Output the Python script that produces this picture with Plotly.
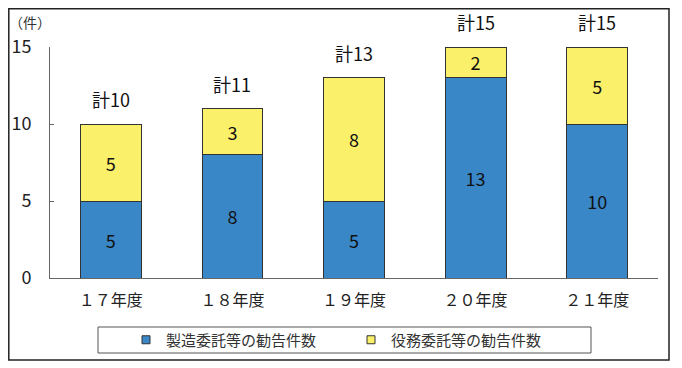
import plotly.graph_objects as go

categories = ["１７年度", "１８年度", "１９年度", "２０年度", "２１年度"]
manufacturing = [5, 8, 5, 13, 10]
services = [5, 3, 8, 2, 5]
series_names = ["製造委託等の勧告件数", "役務委託等の勧告件数"]
totals = [m + s for m, s in zip(manufacturing, services)]
total_labels = ["計%d" % t for t in totals]
y_ticks = [0, 5, 10, 15]
colors = ["#3A87C8", "#FBF06A"]

JP = "Noto Sans CJK JP, Noto Sans, sans-serif"
NUM = "Liberation Sans Narrow, Noto Sans CJK JP, sans-serif"

# page is rendered with an 8px body margin
OFF = 8
L, T, W, H = 42, 39, 608, 231
FW, FH = 682, 368


def px(xp):
    return (xp - OFF - L) / W


def py(yp):
    return (T + H - (yp - OFF)) / H


fig = go.Figure()
for vals, name, col in zip([manufacturing, services], series_names, colors):
    fig.add_trace(go.Bar(
        x=categories, y=vals, name=name, showlegend=False,
        marker=dict(color=col, line=dict(color="#333333", width=1)),
        text=vals, textposition="inside", insidetextanchor="middle", textangle=0,
        textfont=dict(family=NUM, size=18, color="#111111"), width=0.5,
    ))
for name, col in zip(series_names, colors):
    fig.add_trace(go.Scatter(
        x=[None], y=[None], mode="markers", name=name,
        marker=dict(symbol="square", size=8, color=col, line=dict(color="#333333", width=1)),
    ))

for c, t, lab in zip(categories, totals, total_labels):
    fig.add_annotation(x=c, y=t, text=lab, showarrow=False, yanchor="bottom",
                       yshift=10, font=dict(family=NUM, size=18, color="#111111"))

fig.add_annotation(xref="paper", yref="paper", x=px(30), y=py(22),
                   text="（件）", showarrow=False, xanchor="center", yanchor="middle",
                   font=dict(family=JP, size=14, color="#333333"))

# outer frame
fig.add_shape(type="rect", xref="paper", yref="paper",
              x0=px(8.8), x1=px(669), y0=py(360), y1=py(8.8),
              line=dict(color="#222222", width=1.5))
# legend frame
fig.add_shape(type="rect", xref="paper", yref="paper",
              x0=px(98), x1=px(591), y0=py(353), y1=py(327),
              line=dict(color="#555555", width=1))

fig.update_layout(
    barmode="stack",
    width=FW, height=FH,
    margin=dict(l=L, r=FW - L - W, t=T, b=FH - T - H, autoexpand=False),
    paper_bgcolor="white", plot_bgcolor="white",
    uniformtext=dict(minsize=18, mode="show"),
    showlegend=True,
    legend=dict(orientation="h", x=px(351), xanchor="center",
                y=py(340), yanchor="middle",
                font=dict(family=JP, size=15, color="#333333"),
                entrywidth=180, entrywidthmode="pixels", itemwidth=30,
                bgcolor="rgba(0,0,0,0)", borderwidth=0, traceorder="normal"),
    font=dict(family=JP, color="#222222"),
)
fig.update_xaxes(showline=True, linecolor="#666666", linewidth=1, ticks="",
                 tickfont=dict(family=JP, size=16, color="#222222"),
                 ticklabelstandoff=8,
                 range=[-0.5, 4.5], showgrid=False)
fig.update_yaxes(range=[0, 15], tickvals=y_ticks, showline=True, linecolor="#666666",
                 linewidth=1, ticks="inside", ticklen=4, tickcolor="#666666",
                 tickfont=dict(family=NUM, size=18, color="#222222"),
                 showgrid=False, zeroline=False, ticklabelstandoff=14)

fig.write_html("out.html")
